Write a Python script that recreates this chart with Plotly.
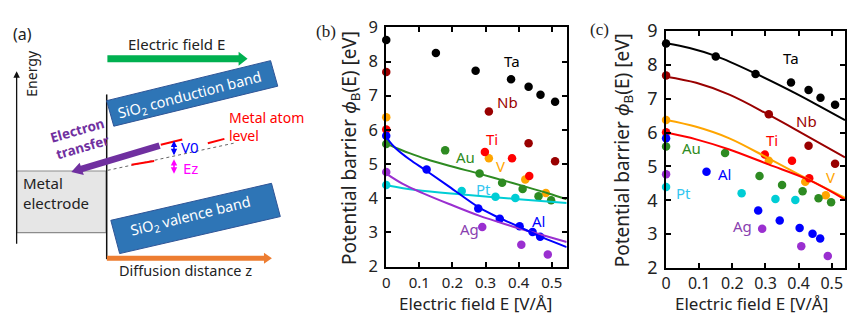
import numpy as np
import plotly.graph_objects as go

W, H = 847, 322

# ---------------- data ----------------
metals = ["Ta", "Nb", "V", "Ti", "Au", "Al", "Pt", "Ag"]

ta_E = [0, 0.150, 0.270, 0.377, 0.430, 0.466, 0.510]
ta_phi = [8.63, 8.25, 7.73, 7.48, 7.26, 7.03, 6.82]
nb_E = [0, 0.310, 0.430, 0.510]
nb_phi = [7.69, 6.54, 5.61, 5.08]
v_E = [0, 0.310, 0.420, 0.482]
v_phi = [6.37, 5.17, 4.55, 4.15]
ti_E = [0, 0.298, 0.380, 0.432]
ti_phi = [6.01, 5.35, 5.17, 4.65]
au_E = [0, 0.178, 0.282, 0.350, 0.412, 0.460, 0.498]
au_phi = [5.59, 5.40, 4.72, 4.45, 4.27, 4.06, 3.94]
al_E = [0, 0.122, 0.278, 0.343, 0.403, 0.442, 0.465]
al_phi = [5.83, 4.84, 3.70, 3.40, 3.18, 3.01, 2.87]
pt_E = [0, 0.228, 0.330, 0.390]
pt_phi = [4.39, 4.21, 4.04, 4.01]
ag_E = [0, 0.290, 0.408, 0.488]
ag_phi = [4.77, 3.16, 2.64, 2.35]

# fitted curves, panel (b)
au_fit_E = [0, 0.03, 0.07, 0.12, 0.19, 0.28, 0.35, 0.42, 0.49, 0.545]
au_fit = [5.60, 5.47, 5.32, 5.15, 4.95, 4.72, 4.53, 4.34, 4.14, 3.97]
al_fit_E = [0, 0.01, 0.03, 0.07, 0.12, 0.19, 0.28, 0.34, 0.40, 0.47, 0.545]
al_fit = [5.83, 5.66, 5.45, 5.14, 4.81, 4.34, 3.73, 3.43, 3.17, 2.86, 2.57]
ag_fit_E = [0, 0.05, 0.11, 0.19, 0.28, 0.37, 0.45, 0.545]
ag_fit = [4.72, 4.42, 4.15, 3.83, 3.49, 3.21, 2.98, 2.72]
pt_fit_E = [0, 0.09, 0.23, 0.39, 0.545]
pt_fit = [4.38, 4.24, 4.11, 3.98, 3.86]

# fitted curves, panel (c)
ta_fit_E = [0, 0.071, 0.151, 0.271, 0.391, 0.471, 0.54]
ta_fit = [8.64, 8.50, 8.26, 7.74, 7.16, 6.74, 6.37]
nb_fit_E = [0, 0.091, 0.191, 0.309, 0.411, 0.54]
nb_fit = [7.65, 7.47, 7.12, 6.53, 5.98, 5.27]
v_fit_E = [0, 0.091, 0.191, 0.309, 0.421, 0.54]
v_fit = [6.37, 6.17, 5.83, 5.24, 4.66, 4.07]
ti_fit_E = [0, 0.091, 0.191, 0.309, 0.431, 0.54]
ti_fit = [6.00, 5.80, 5.50, 5.06, 4.60, 4.02]

x_ticks = [0, 0.1, 0.2, 0.3, 0.4, 0.5]
x_ticktext = ["0", "0.1", "0.2", "0.3", "0.4", "0.5"]
y_ticks = [2, 3, 4, 5, 6, 7, 8, 9]

colors = {"Ta": "#000000", "Nb": "#990000", "V": "#ffa500", "Ti": "#ff0000",
          "Au": "#2e8b22", "Al": "#0000ff", "Pt": "#00cdd5", "Ag": "#9a2fd0"}
label_colors = dict(colors, Pt="#33c6f0", Ag="#8a3fb0", Au="#2e8b22")

points = {"Ta": (ta_E, ta_phi), "Nb": (nb_E, nb_phi), "V": (v_E, v_phi), "Ti": (ti_E, ti_phi),
          "Au": (au_E, au_phi), "Al": (al_E, al_phi), "Pt": (pt_E, pt_phi), "Ag": (ag_E, ag_phi)}
fits_b = {"Au": (au_fit_E, au_fit), "Pt": (pt_fit_E, pt_fit), "Ag": (ag_fit_E, ag_fit), "Al": (al_fit_E, al_fit)}
fits_c = {"Ta": (ta_fit_E, ta_fit), "Nb": (nb_fit_E, nb_fit), "V": (v_fit_E, v_fit), "Ti": (ti_fit_E, ti_fit)}

# label positions (data coords)
labels_b = {"Ta": (0.38, 8.02), "Nb": (0.365, 6.81), "Ti": (0.32, 5.72), "V": (0.345, 4.93),
            "Au": (0.24, 5.20), "Pt": (0.295, 4.28), "Al": (0.46, 3.32), "Ag": (0.252, 3.10)}
labels_c = {"Ta": (0.376, 8.21), "Nb": (0.423, 6.34), "Ti": (0.321, 5.77), "V": (0.496, 4.70),
            "Au": (0.076, 5.55), "Al": (0.176, 4.79), "Pt": (0.053, 4.22), "Ag": (0.230, 3.24)}

FONT = "Noto Sans"

fig = go.Figure()

for m in metals:
    E, p = points[m]
    fig.add_trace(go.Scatter(x=E, y=p, mode="markers", xaxis="x", yaxis="y",
                             marker=dict(size=8.5, color=colors[m]), cliponaxis=False,
                             showlegend=False, hoverinfo="skip"))
for m, (E, p) in fits_b.items():
    fig.add_trace(go.Scatter(x=E, y=p, mode="lines", xaxis="x", yaxis="y",
                             line=dict(color=colors[m], width=2, shape="spline", smoothing=1.0),
                             showlegend=False, hoverinfo="skip"))
for m in metals:
    E, p = points[m]
    fig.add_trace(go.Scatter(x=E, y=p, mode="markers", xaxis="x2", yaxis="y2",
                             marker=dict(size=8.5, color=colors[m]), cliponaxis=False,
                             showlegend=False, hoverinfo="skip"))
for m, (E, p) in fits_c.items():
    fig.add_trace(go.Scatter(x=E, y=p, mode="lines", xaxis="x2", yaxis="y2",
                             line=dict(color=colors[m], width=2, shape="spline", smoothing=1.0),
                             showlegend=False, hoverinfo="skip"))

def px(x):
    return x / W

def py(y):
    return 1 - y / H

axis_common = dict(showline=True, linecolor="black", linewidth=2, mirror="allticks",
                   ticks="inside", ticklen=5, tickwidth=2, tickcolor="black",
                   showgrid=False, zeroline=False, fixedrange=True)

fig.update_layout(
    width=W, height=H, margin=dict(l=0, r=0, t=0, b=0),
    paper_bgcolor="white", plot_bgcolor="rgba(0,0,0,0)",
    font=dict(family=FONT, color="#222"),
    xaxis=dict(domain=[px(383.5), px(565)], range=[0, 0.545], anchor="y",
               tickvals=x_ticks, ticktext=x_ticktext,
               tickfont=dict(size=15, family=FONT, color="#222"), ticklabelstandoff=1, **axis_common),
    yaxis=dict(domain=[py(274), py(15.5)], range=[2, 9], anchor="x", tickvals=y_ticks,
               tickfont=dict(size=16.5, family=FONT, color="#222"), ticklabelstandoff=3, **axis_common),
    xaxis2=dict(domain=[px(665), px(845)], range=[0, 0.54], anchor="y2",
                tickvals=x_ticks, ticktext=x_ticktext,
                tickfont=dict(size=16, family=FONT, color="#222"), ticklabelstandoff=0, **axis_common),
    yaxis2=dict(domain=[py(275.5), py(19.5)], range=[2, 9], anchor="x2", tickvals=y_ticks,
                tickfont=dict(size=18, family=FONT, color="#222"), ticklabelstandoff=3, **axis_common),
)

ann = []
for m, (x, y) in labels_b.items():
    ann.append(dict(x=x, y=y, xref="x", yref="y", text=m, showarrow=False,
                    font=dict(size=15, color=label_colors[m], family=FONT)))
for m, (x, y) in labels_c.items():
    ann.append(dict(x=x, y=y, xref="x2", yref="y2", text=m, showarrow=False,
                    font=dict(size=15, color=label_colors[m], family=FONT)))

def text_at(x, y, text, size=13, color="#222", angle=0, xanchor="center", align="center", family=FONT):
    ann.append(dict(x=px(x), y=py(y), xref="paper", yref="paper", text=text, showarrow=False,
                    xanchor=xanchor, yanchor="middle", textangle=angle, align=align,
                    font=dict(size=size, color=color, family=family)))

ytitle = "Potential barrier <i>ϕ</i><sub>B</sub>(E) [eV]"
text_at(347, 146, ytitle, size=19, angle=-90)
text_at(622, 148, ytitle, size=19, angle=-90)
text_at(473, 313.5, "Electric field E [V/Å]", size=17)
text_at(751, 313.5, "Electric field E [V/Å]", size=17)
text_at(323, 20, "(b)", size=17, family="Liberation Serif")
text_at(598, 18, "(c)", size=17, family="Liberation Serif")
text_at(18, 23, "(a)", size=16)

# ---------------- panel (a) schematic ----------------
shapes = []

def poly(pts, fill, line_color=None, lw=0):
    d = "M " + " L ".join(f"{px(x):.5f},{py(y):.5f}" for x, y in pts) + " Z"
    shapes.append(dict(type="path", path=d, xref="paper", yref="paper", fillcolor=fill,
                       line=dict(color=line_color or fill, width=lw)))

def line(x0, y0, x1, y1, color, width=1.5, dash="solid"):
    shapes.append(dict(type="line", x0=px(x0), y0=py(y0), x1=px(x1), y1=py(y1),
                       xref="paper", yref="paper", line=dict(color=color, width=width, dash=dash)))

def rot_rect(cx, cy, L, Wd, ang):
    a = np.radians(ang)
    u = np.array([np.cos(a), -np.sin(a)])
    v = np.array([np.sin(a), np.cos(a)])
    c = np.array([cx, cy])
    return [c - u * L / 2 - v * Wd / 2, c + u * L / 2 - v * Wd / 2,
            c + u * L / 2 + v * Wd / 2, c - u * L / 2 + v * Wd / 2]

def block_arrow(tail, tip, bw, hw, hl):
    t = np.array(tail, float); h = np.array(tip, float)
    d = h - t; L = np.linalg.norm(d); u = d / L
    n = np.array([-u[1], u[0]])
    b = h - u * hl
    return [t + n * bw / 2, b + n * bw / 2, b + n * hw / 2, h, b - n * hw / 2, b - n * bw / 2, t - n * bw / 2]

# metal electrode
poly([(11.7, 170.7), (101.7, 170.7), (101.7, 237.3), (11.7, 237.3)], "#e6e6e6", "#8c8c8c", 1.2)
# vertical interface line
line(102.3, 88, 102.3, 266, "#111", 1.5)
# bands
poly(rot_rect(188.3, 86.9, 170.5, 28.5, 14.7), "#2e75b6", "#2f5597", 1)
poly(rot_rect(191.7, 222.0, 166.5, 37.0, 13.9), "#2e75b6", "#2f5597", 1)
# arrows
poly(block_arrow((103, 49.5), (244, 49.5), 7.5, 15, 9), "#00b050")
poly(block_arrow((102.5, 265), (268.5, 265), 5.5, 12, 8), "#ed7d31")
poly(block_arrow((155.5, 143.3), (66.7, 171.7), 7, 14, 11), "#7030a0")
# dotted reference line and metal atom level dashes
line(103.3, 170.0, 230, 140.7, "#666", 1, "dot")
line(127.3, 164.0, 150, 160.0, "#ff0000", 2)
line(156.7, 142.3, 178.3, 136.7, "#ff0000", 2)
line(204, 140.7, 220.7, 136.0, "#ff0000", 2)

# energy axis arrow
ann.append(dict(x=px(11.7), y=py(63), xref="paper", yref="paper", ax=0, ay=174, axref="pixel",
                ayref="pixel", text="", showarrow=True, arrowhead=2, arrowsize=1, arrowwidth=1.3,
                arrowcolor="#111"))
# V0 and Ez double arrows
ann.append(dict(x=px(170), y=py(138), xref="paper", yref="paper", ax=0, ay=16, text="",
                showarrow=True, arrowhead=2, startarrowhead=2, arrowside="end+start",
                arrowsize=0.8, arrowwidth=1.6, arrowcolor="#0000ff"))
ann.append(dict(x=px(170), y=py(158), xref="paper", yref="paper", ax=0, ay=16, text="",
                showarrow=True, arrowhead=2, startarrowhead=2, arrowside="end+start",
                arrowsize=0.8, arrowwidth=1.6, arrowcolor="#ff00ff"))

text_at(173, 33, "Electric field E", size=15, color="#222")
text_at(182, 278, "Diffusion distance z", size=14.5, color="#222")
text_at(186, 89, "SiO<sub>2</sub> conduction band", size=14.5, color="white", angle=-14.7)
text_at(187, 219, "SiO<sub>2</sub> valence band", size=14.5, color="white", angle=-13.9)
text_at(16.5, 194, "Metal<br>electrode", size=15, color="#222", xanchor="left", align="left")
text_at(26.7, 65, "Energy", size=14, color="#222", angle=-90)
text_at(223, 123, "Metal atom<br>level", size=14, color="#ff0000", xanchor="left", align="left")
text_at(75, 136, "<b>Electron<br>transfer</b>", size=13.5, color="#7030a0", angle=-16, align="right")
text_at(186.5, 145, "V0", size=15, color="#0000ff")
text_at(187, 167, "Ez", size=15, color="#ff00ff")

fig.update_layout(shapes=shapes, annotations=ann)
fig.write_html("out.html", config={"displayModeBar": False, "staticPlot": True},
               post_script="document.body.style.margin='0px';document.body.style.padding='0px';"
                           "document.documentElement.style.overflow='hidden';")
